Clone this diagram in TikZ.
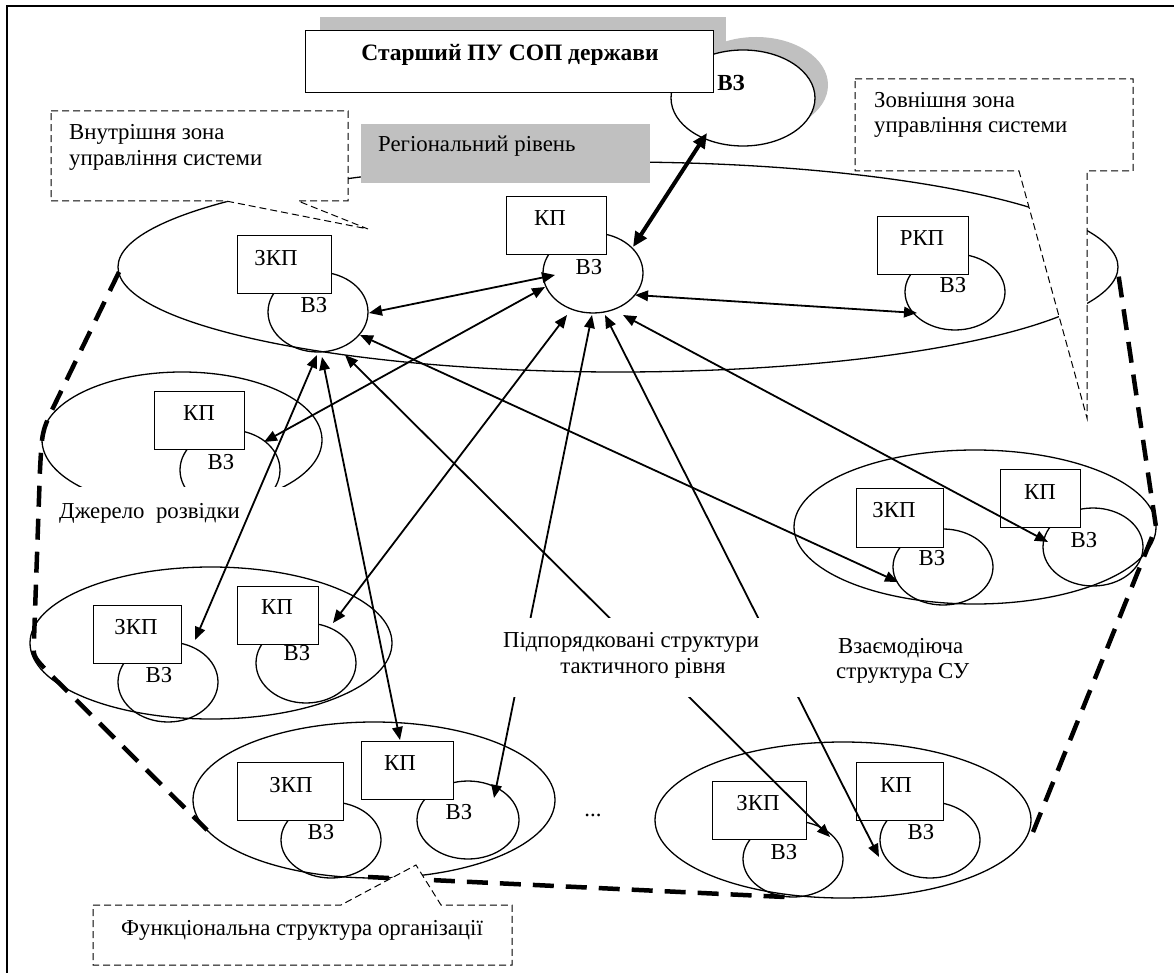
\documentclass[tikz,border=0pt]{standalone}
\usepackage{fontspec}
\setmainfont{Liberation Serif}
\usetikzlibrary{shapes.geometric,arrows.meta}
\definecolor{greyfill}{RGB}{192,192,192}
\begin{document}
\begin{tikzpicture}[x=1pt,y=-1pt,
  txt/.style={font=\fontsize{22.8}{27}\selectfont, inner sep=0pt},
  vz/.style={ellipse, draw, line width=1.3pt, minimum width=100pt, minimum height=78pt, inner sep=0pt},
  grp/.style={ellipse, draw, line width=1.3pt, inner sep=0pt},
  bx/.style={draw, fill=white, line width=1.3pt, inner sep=0pt, anchor=north west},
  arr/.style={line width=1.8pt, {Triangle[length=13pt,width=10.5pt]}-{Triangle[length=13pt,width=10.5pt]}},
  thickarr/.style={line width=4pt, {Triangle[length=15pt,width=13pt]}-{Triangle[length=15pt,width=13pt]}},
  callout/.style={draw, fill=white, line width=1pt, dash pattern=on 7pt off 4pt},
  bound/.style={line width=4.5pt, dash pattern=on 21pt off 12pt},
]
\useasboundingbox (0,0) rectangle (1174,973);
% frame
\draw[line width=1.5pt] (7,973) -- (7,6) -- (1174,6);

% top level
\node[ellipse, fill=greyfill, minimum width=144pt, minimum height=96pt, inner sep=0pt] (topsh) at (756,85) {};
\fill[greyfill] (320,17) rectangle (726,78);
\node[ellipse, draw, fill=white, line width=1.3pt, minimum width=144pt, minimum height=96pt, inner sep=0pt] (vzTop) at (743,98) {};
\node[bx, minimum width=408pt, minimum height=62pt] (bTitle) at (305,30) {};
\node[txt, font=\fontsize{23.5}{27}\selectfont\bfseries, anchor=base] (tTitle) at (510,61) {Старший ПУ СОП держави};
\node[txt, font=\fontsize{23}{27}\selectfont\bfseries] (lTop) at (731,83) {ВЗ};

% group ellipses
\node[grp, minimum width=1000pt, minimum height=210pt] (eMain) at (618,267) {};
\node[grp, minimum width=280pt, minimum height=136pt] (eJ) at (182,440) {};
\node[grp, minimum width=362pt, minimum height=152pt] (eR3) at (211,643) {};
\node[grp, minimum width=362pt, minimum height=156pt] (eR4) at (374,800) {};
\node[grp, minimum width=376pt, minimum height=156pt] (eR5) at (843,820) {};
\node[grp, minimum width=362pt, minimum height=154pt] (eV) at (975,527) {};

% VZ circles
\node[vz, minimum height=80pt] (vzZM) at (318,312) {};
\node[vz, minimum height=80pt] (vzC) at (593,273) {};
\node[vz, minimum height=76pt] (vzR) at (955,292) {};
\node[vz, minimum height=80pt] (vzJ) at (230,470) {};
\node[vz, minimum height=80pt] (vzR3Z) at (168,682) {};
\node[vz, minimum height=80pt] (vzR3K) at (306,663) {};
\node[vz, minimum height=76pt] (vzR4Z) at (331,840) {};
\node[vz, minimum width=102pt, minimum height=78pt] (vzR4K) at (468,820) {};
\node[vz, minimum height=76pt] (vzR5Z) at (793,859) {};
\node[vz, minimum height=76pt] (vzR5K) at (930,840) {};
\node[vz, minimum height=76pt] (vzVZ) at (943,567) {};
\node[vz, minimum height=78pt] (vzVK) at (1093,547) {};

% mask under "Джерело розвідки"
\fill[white] (48,487) rectangle (300,548);
\node[txt, anchor=base west] (tJ) at (59,518) {Джерело\ \ розвідки};

% boxes
\node[bx, minimum width=94pt, minimum height=58pt] (bZM) at (237,235) {};
\node[bx, minimum width=100pt, minimum height=58pt] (bC) at (506,196) {};
\node[bx, minimum width=91pt, minimum height=58pt] (bR) at (877,216) {};
\node[bx, minimum width=90pt, minimum height=58pt] (bJ) at (154,391) {};
\node[bx, minimum width=88pt, minimum height=58pt] (bR3Z) at (93,605) {};
\node[bx, minimum width=81pt, minimum height=58pt] (bR3K) at (237,586) {};
\node[bx, minimum width=106pt, minimum height=58pt] (bR4Z) at (237,762) {};
\node[bx, minimum width=92pt, minimum height=58pt] (bR4K) at (361,741) {};
\node[bx, minimum width=94pt, minimum height=58pt] (bR5Z) at (712,781) {};
\node[bx, minimum width=87pt, minimum height=58pt] (bR5K) at (856,762) {};
\node[bx, minimum width=87pt, minimum height=59pt] (bVZ) at (856,488) {};
\node[bx, minimum width=80pt, minimum height=58pt] (bVK) at (1000,469) {};

% box labels
\node[txt] (lbZM) at (276,258) {ЗКП};
\node[txt] (lbC) at (550,218) {КП};
\node[txt] (lbR) at (922,238) {РКП};
\node[txt] (lbJ) at (199,413) {КП};
\node[txt] (lbR3Z) at (136,627) {ЗКП};
\node[txt] (lbR3K) at (277,607) {КП};
\node[txt] (lbR4Z) at (291,785) {ЗКП};
\node[txt] (lbR4K) at (400,763) {КП};
\node[txt] (lbR5Z) at (758,803) {ЗКП};
\node[txt] (lbR5K) at (896,785) {КП};
\node[txt] (lbVZ) at (894,510) {ЗКП};
\node[txt] (lbVK) at (1040,492) {КП};

% VZ labels
\node[txt] (lvZM) at (314,305) {ВЗ};
\node[txt] (lvC) at (589,267) {ВЗ};
\node[txt] (lvR) at (953,285) {ВЗ};
\node[txt] (lvJ) at (221,462) {ВЗ};
\node[txt] (lvR3Z) at (159,675) {ВЗ};
\node[txt] (lvR3K) at (297,653) {ВЗ};
\node[txt] (lvR4Z) at (321,832) {ВЗ};
\node[txt] (lvR4K) at (459,812) {ВЗ};
\node[txt] (lvR5Z) at (784,852) {ВЗ};
\node[txt] (lvR5K) at (921,832) {ВЗ};
\node[txt] (lvVZ) at (932,558) {ВЗ};
\node[txt] (lvVK) at (1084,540) {ВЗ};

% thick dashed boundary
\draw[bound] (119,272) -- (52,410) .. controls (42,432) .. (40,470) -- (34,640) .. controls (33,656) .. (46,670) -- (207,830);
\draw[bound] (368,877) -- (785,897);
\draw[bound] (1033,832) -- (1156,527) -- (1118,272);

% callouts
\draw[callout] (51,111) -- (348,111) -- (348,201) -- (298,201) -- (368,229) -- (226,201) -- (51,201) -- cycle;
\node[txt, anchor=base west] (tIn1) at (69,140) {Внутрішня зона};
\node[txt, anchor=base west] (tIn2) at (69,166) {управління системи};
\draw[callout] (855,79) -- (1133,79) -- (1133,171) -- (1087,171) -- (1087,418) -- (1019,171) -- (855,171) -- cycle;
\node[txt, anchor=base west] (tOut1) at (874,108) {Зовнішня зона};
\node[txt, anchor=base west] (tOut2) at (874,133) {управління системи};
\draw[callout] (93,905) -- (341,905) -- (416,865) -- (441,905) -- (512,905) -- (512,965) -- (93,965) -- cycle;
\node[txt, anchor=base] (tFunc) at (302,935) {Функціональна структура організації};

% regional level
\fill[greyfill] (361,124) rectangle (650,183);
\node[txt, anchor=base west] (tReg) at (378,152) {Регіональний рівень};

% connector end points
\coordinate (zA) at (369,313); \coordinate (cA) at (555,275);
\coordinate (tB) at (707,133); \coordinate (cB) at (633,247);
\coordinate (cC) at (635,295); \coordinate (rC) at (917,313);
\coordinate (jD) at (264,442); \coordinate (cD) at (545,287);
\coordinate (cG) at (567,315); \coordinate (r3G) at (333,623);
\coordinate (cH) at (592,315); \coordinate (r4H) at (494,798);
\coordinate (cI) at (605,315); \coordinate (r5I) at (879,857);
\coordinate (cJ) at (623,315); \coordinate (vJ) at (1048,542);
\coordinate (zK) at (317,355); \coordinate (r3K) at (195,640);
\coordinate (zL) at (322,357); \coordinate (r4L) at (400,740);
\coordinate (zM) at (345,355); \coordinate (r5M) at (830,837);
\coordinate (zN) at (360,335); \coordinate (vN) at (898,582);

\draw[arr] (zA) -- (cA);
\draw[thickarr] (tB) -- (cB);
\draw[arr] (cC) -- (rC);
\draw[arr] (jD) -- (cD);
\draw[arr] (cG) -- (r3G);
\draw[arr] (cH) -- (r4H);
\draw[arr] (cI) -- (r5I);
\draw[arr] (cJ) -- (vJ);
\draw[arr] (zK) -- (r3K);
\draw[arr] (zL) -- (r4L);
\draw[arr] (zM) -- (r5M);
\draw[arr] (zN) -- (vN);

% subordinate label with mask
\fill[white] (505,618) rectangle (805,697);
\node[txt, anchor=base] (tSub1) at (631,647) {Підпорядковані структури};
\node[txt, anchor=base] (tSub2) at (643,673) {тактичного рівня};
\node[txt, anchor=base west] (tInt1) at (838,653) {Взаємодіюча};
\node[txt, anchor=base west] (tInt2) at (836,678) {структура СУ};
\node[txt, anchor=base] (tDots) at (593,816) {...};
\end{tikzpicture}
\end{document}
